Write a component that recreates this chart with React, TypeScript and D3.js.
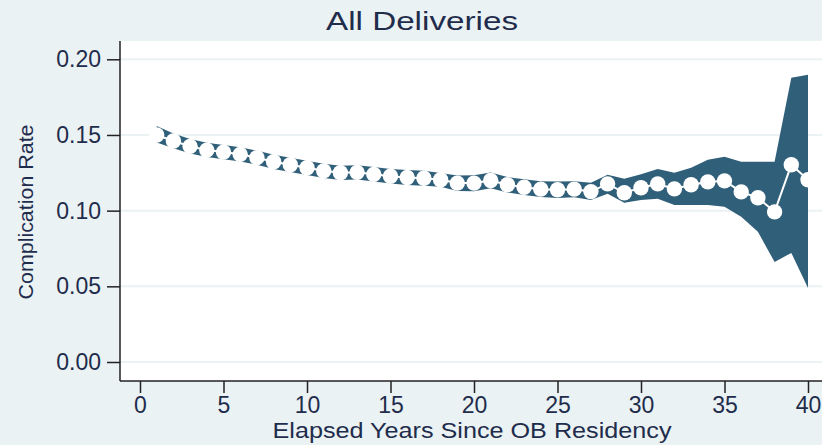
import React, { useRef, useEffect } from 'react';
import * as d3 from 'd3';

// elapsed years since OB residency
const years = [1, 2, 3, 4, 5, 6, 7, 8, 9, 10, 11, 12, 13, 14, 15, 16, 17, 18, 19, 20,
  21, 22, 23, 24, 25, 26, 27, 28, 29, 30, 31, 32, 33, 34, 35, 36, 37, 38, 39, 40];

// point estimate of complication rate
const rate = [0.150, 0.146, 0.1425, 0.140, 0.1387, 0.1372, 0.135, 0.1323, 0.1303, 0.1283,
  0.1263, 0.125, 0.1253, 0.124, 0.1227, 0.1219, 0.1214, 0.1204, 0.1182, 0.1182,
  0.1199, 0.1171, 0.1155, 0.1142, 0.1138, 0.1142, 0.1126, 0.1177, 0.1118, 0.1151,
  0.1177, 0.1144, 0.1171, 0.119, 0.1197, 0.1124, 0.1085, 0.0992, 0.1303, 0.1204];

// confidence band
const ciLow = [0.1450, 0.1412, 0.1378, 0.1354, 0.1340, 0.1325, 0.1303, 0.1276, 0.1256, 0.1236,
  0.1216, 0.1203, 0.1205, 0.1192, 0.1179, 0.1170, 0.1165, 0.1158, 0.1130, 0.1128,
  0.1148, 0.1120, 0.1103, 0.1090, 0.1084, 0.1088, 0.1071, 0.1111, 0.1052, 0.1071,
  0.1078, 0.1038, 0.1038, 0.1038, 0.1025, 0.0959, 0.0860, 0.0661, 0.0721, 0.0489];
const ciHigh = [0.1560, 0.1510, 0.1473, 0.1448, 0.1434, 0.1419, 0.1397, 0.1370, 0.1350, 0.1330,
  0.1310, 0.1297, 0.1300, 0.1288, 0.1275, 0.1268, 0.1263, 0.1248, 0.1232, 0.1234,
  0.1252, 0.1222, 0.1207, 0.1195, 0.1192, 0.1195, 0.1184, 0.1237, 0.1210, 0.1241,
  0.1276, 0.1250, 0.1283, 0.1336, 0.1356, 0.1323, 0.1323, 0.1323, 0.1878, 0.1898];

const xTicks = [0, 5, 10, 15, 20, 25, 30, 35, 40];
const yTicks = [0, 0.05, 0.1, 0.15, 0.2];

const title = 'All Deliveries';
const xTitle = 'Elapsed Years Since OB Residency';
const yTitle = 'Complication Rate';

const App = () => {
  const ref = useRef(null);
  const width = 822;
  const height = 445;

  useEffect(() => {
    const svg = d3.select(ref.current)
      .attr('width', width)
      .attr('height', height);

    svg.selectAll('*').remove();

    const bg = '#eaf2f3';
    const textColor = '#1f2c4c';
    const bandColor = '#305f7a';
    const font = '"Liberation Sans", Arial, sans-serif';

    const plotLeft = 120, plotTop = 41, plotBottom = 381, plotRight = width;

    const x = d3.scaleLinear().domain([0, 40]).range([140, 808]);
    const y = d3.scaleLinear().domain([0, 0.2]).range([362, 59.3]);

    svg.append('rect').attr('width', width).attr('height', height).attr('fill', bg);
    svg.append('rect')
      .attr('x', plotLeft).attr('y', plotTop)
      .attr('width', plotRight - plotLeft).attr('height', plotBottom - plotTop)
      .attr('fill', 'white');

    // gridlines
    svg.append('g').selectAll('line')
      .data(yTicks)
      .enter().append('line')
      .attr('x1', plotLeft).attr('x2', plotRight)
      .attr('y1', d => y(d)).attr('y2', d => y(d))
      .attr('stroke', bg).attr('stroke-width', 2);

    const rows = years.map((yr, i) => ({ yr, v: rate[i], lo: ciLow[i], hi: ciHigh[i] }));

    const area = d3.area()
      .x(d => x(d.yr))
      .y0(d => y(d.lo))
      .y1(d => y(d.hi));

    svg.append('path')
      .datum(rows)
      .attr('d', area)
      .attr('fill', bandColor);

    const line = d3.line().x(d => x(d.yr)).y(d => y(d.v));
    svg.append('path')
      .datum(rows)
      .attr('d', line)
      .attr('fill', 'none')
      .attr('stroke', 'white')
      .attr('stroke-width', 2);

    svg.append('g').selectAll('circle')
      .data(rows)
      .enter().append('circle')
      .attr('cx', d => x(d.yr))
      .attr('cy', d => y(d.v))
      .attr('r', 7.7)
      .attr('fill', 'white');

    // y axis
    const yAxis = svg.append('g')
      .attr('transform', `translate(${plotLeft},0)`)
      .call(d3.axisLeft(y).tickValues(yTicks).tickFormat(d3.format('.2f')).tickSize(13).tickPadding(6));
    yAxis.select('.domain').attr('d', `M0,${plotTop}V${plotBottom}`);

    // x axis
    const xAxis = svg.append('g')
      .attr('transform', `translate(0,${plotBottom})`)
      .call(d3.axisBottom(x).tickValues(xTicks).tickSize(12).tickPadding(4));
    xAxis.select('.domain').attr('d', `M${plotLeft},0H${plotRight}`);

    [yAxis, xAxis].forEach(ax => {
      ax.select('.domain').attr('stroke', '#222').attr('stroke-width', 1.5);
      ax.selectAll('.tick line').attr('stroke', '#222').attr('stroke-width', 1.5);
      ax.selectAll('.tick text')
        .attr('fill', textColor)
        .style('font-family', font)
        .style('font-size', '23px');
    });

    svg.append('text')
      .attr('x', 422).attr('y', 30)
      .attr('text-anchor', 'middle')
      .attr('textLength', 192).attr('lengthAdjust', 'spacingAndGlyphs')
      .attr('fill', textColor)
      .style('font-family', font).style('font-size', '26px')
      .text(title);

    svg.append('text')
      .attr('x', 472).attr('y', 438)
      .attr('text-anchor', 'middle')
      .attr('textLength', 399).attr('lengthAdjust', 'spacingAndGlyphs')
      .attr('fill', textColor)
      .style('font-family', font).style('font-size', '22px')
      .text(xTitle);

    svg.append('text')
      .attr('transform', `translate(33,212) rotate(-90)`)
      .attr('text-anchor', 'middle')
      .attr('textLength', 175).attr('lengthAdjust', 'spacingAndGlyphs')
      .attr('fill', textColor)
      .style('font-family', font).style('font-size', '21px')
      .text(yTitle);
  }, []);

  return (
    <svg ref={ref} style={{ position: 'absolute', left: 0, top: 0, display: 'block' }}></svg>
  );
};

export default App;
